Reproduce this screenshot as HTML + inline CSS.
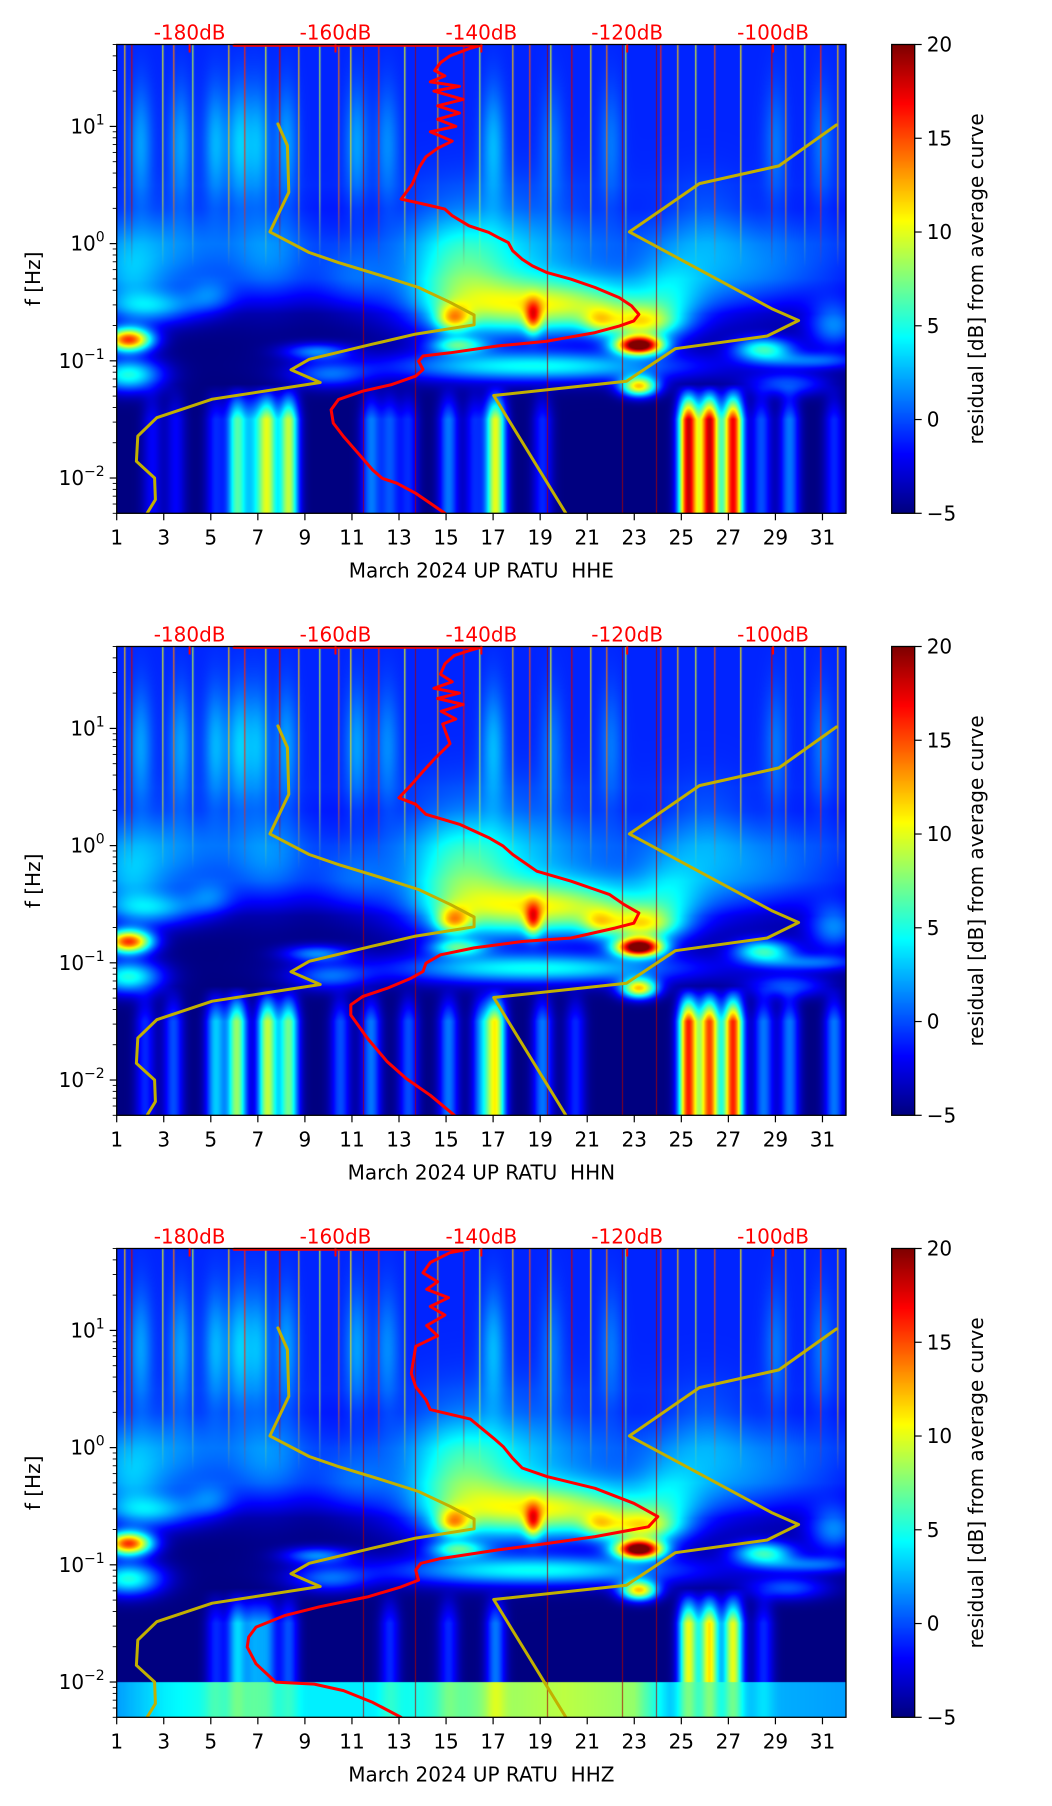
<!DOCTYPE html>
<html><head><meta charset="utf-8">
<style>
html,body{margin:0;padding:0;background:#fff;}
#root{position:relative;width:1052px;height:1806px;overflow:hidden;font-family:"DejaVu Sans","Liberation Sans",sans-serif;}
canvas{position:absolute;}
svg{position:absolute;left:0;top:0;}
</style></head>
<body>
<div id="root">
<canvas id="c0"></canvas>
<canvas id="c1"></canvas>
<canvas id="c2"></canvas>
<canvas id="cb0"></canvas>
<canvas id="cb1"></canvas>
<canvas id="cb2"></canvas>
<svg id="ov" width="1052" height="1806"></svg>
</div>
<script>
// ---------- data ----------
const dayTicks = [1,3,5,7,9,11,13,15,17,19,21,23,25,27,29,31];
const dbTicks = [-180,-160,-140,-120,-100];
const cbTicks = [-5,0,5,10,15,20];
const channelNames = ["HHE","HHN","HHZ"];

const red0dB = [-173.9,-140,-141.7,-144.3,-145.6,-146.4,-145,-147,-143,-146.5,-142.5,-146,-143,-146,-143.5,-147,-144,-146,-147.6,-148.5,-149,-149.5,-151,-149,-147,-145,-144,-141.7,-139,-137.7,-136.3,-135.7,-134.4,-133,-131,-127.7,-124.4,-121.1,-119.4,-118.4,-119.1,-121.1,-124.4,-131,-137.7,-144.3,-148,-148.6,-148,-149,-152.3,-156.3,-159.6,-160.6,-160.3,-158.9,-156.9,-154.9,-153.6,-151.6,-149,-147,-145];
const red0Hz = [49.3,49.3,46,40,35,30,27,24,22,20,17,15,13,11.5,10,9,7.5,6.5,5.5,4.5,3.8,3.2,2.4,2.25,2.11,1.97,1.73,1.42,1.25,1.13,1.02,0.869,0.736,0.646,0.566,0.497,0.422,0.346,0.294,0.249,0.219,0.198,0.174,0.147,0.134,0.117,0.110,0.0993,0.0843,0.074,0.0627,0.055,0.0467,0.0383,0.0294,0.0226,0.0163,0.0117,0.00995,0.00904,0.00741,0.00608,0.005];
const red1dB = [-173.9,-140,-141.7,-143.7,-145,-145.6,-144,-146.5,-143,-146,-142.5,-145.5,-143.5,-145.3,-144.3,-146.3,-148,-149.6,-151.3,-149,-147.6,-143,-139,-137,-135.7,-132.4,-127.7,-124.4,-122.4,-120.4,-118.4,-119.1,-121.7,-127.7,-134.4,-141,-145.6,-147.6,-148,-149.6,-152.9,-156.3,-157.9,-157.9,-155.6,-152.9,-150.3,-147,-143.7];
const red1Hz = [49.3,49.3,46,42,35.6,29,25,22,20,18,16,14,12,10.9,7.4,5.6,4.3,3.3,2.56,2.25,1.85,1.52,1.17,0.99,0.84,0.605,0.497,0.422,0.382,0.313,0.266,0.218,0.198,0.163,0.152,0.134,0.117,0.0993,0.0843,0.074,0.0607,0.0515,0.0438,0.0359,0.0226,0.0143,0.0103,0.00741,0.005];
const red2dB = [-173.9,-141.7,-144.3,-147,-148,-146,-147.5,-144.5,-147,-145,-147.5,-146,-149,-149.6,-149,-147.6,-147,-145,-141.5,-138.3,-137,-135.7,-134.4,-131,-124.4,-119.1,-115.8,-117.1,-124.4,-131,-137.7,-145.6,-148.3,-149,-148.6,-151,-155.6,-162.2,-166.9,-170.9,-171.9,-172.1,-170.9,-168.2,-162.9,-158.9,-154.9,-151];
const red2Hz = [49.3,49.3,46,38,31,26,22.4,19,16,13.5,11,9,7.3,4.3,3.3,2.56,2.11,1.97,1.75,1.2,1.02,0.81,0.67,0.566,0.45,0.335,0.258,0.211,0.174,0.152,0.134,0.113,0.103,0.090,0.074,0.0648,0.0532,0.0438,0.037,0.0294,0.0242,0.0199,0.0143,0.00998,0.0096,0.00845,0.0067,0.005];

const nlnmDB = [-167.9,-166.6,-166.4,-169.0,-163.6,-159.6,-153.6,-148.6,-144.3,-141.0,-141.0,-149.0,-154.9,-163.6,-166.1,-162.1,-176.9,-184.5,-187.1,-187.3,-184.8,-184.7,-185.8];
const nlnmHz = [10.5,6.87,2.74,1.26,0.84,0.689,0.530,0.422,0.316,0.246,0.203,0.169,0.139,0.103,0.0838,0.0653,0.047,0.0327,0.0228,0.0139,0.0100,0.00655,0.00504];
const nhnmDB = [-128.4,-138.3,-120.1,-113.4,-100.8,-96.5,-100.2,-119.7,-110.1,-99.2,-91.3];
const nhnmHz = [0.005,0.0506,0.067,0.127,0.163,0.221,0.279,1.26,3.25,4.60,10.3];

const baseLf  = [1.7, 0.5, 0.3, 0.0, -0.3, -0.5, -0.6, -1.3, -2.31];
const baseVal = [-1, -1, -1.5, -1.3, -2.3, -4, -5, -5, -5];
const blobDay = [1.5,1.5,2.5,3,5,7.5,11,9.5,10,15.5,17.5,19.5,15.3,18.7,21.5,23.3,23.2,23.2,19,15.5,28.5,27.5,31.5,30.5,29.5,24.5,26,1.5];
const blobLf  = [-0.82,-1.12,-0.55,-0.1,-0.45,-0.15,-0.3,-0.92,-1.12,-0.3,-0.2,-0.55,-0.64,-0.63,-0.66,-0.68,-0.87,-1.22,-1.05,-0.87,-0.9,-0.25,-0.7,-1.0,-1.2,-0.45,0.1,-0.3];
const blobSd  = [0.7,1.0,1.5,2.2,0.7,1.2,1.2,1,1.2,1.5,3,3.3,0.5,0.25,0.5,1.1,0.7,0.55,4.5,0.8,0.9,3,0.8,1.5,1.2,1,1.2,1];
const blobSl  = [0.07,0.1,0.1,0.3,0.1,0.3,0.2,0.05,0.08,0.35,0.4,0.16,0.08,0.1,0.08,0.1,0.055,0.06,0.09,0.05,0.07,0.3,0.15,0.05,0.07,0.25,0.3,0.25];
const blobAmp = [20,10,6,3,3,3,2.5,6,5,5,4.5,12,9,9,5,10,25,16,9,8,10,3.5,6,5,5,3,1.5,3];
const hazeDays = [2,3.7,5.2,6.2,7,8.2,11.2,12.5,17,19.5,22,29,31];
const hazeAmp  = [3,3,3.5,4,3.5,3,3,2.5,3.5,2,2,2,2];
const col0Days = [2.5,3.5,5.2,6.1,6.8,7.4,8.3,11.8,12.6,13.4,15.1,16.2,17.1,19.1,25.3,26.2,27.2,28.4,29.6,31.5];
const col0Amp  = [3,3,4,11,6,14,14,6,5,4,6,4,15,4,23,23,22,5,6,4];
const col1Days = [2.2,3.4,5.2,6.1,7.4,8.3,10.5,11.8,13.4,15.1,16.5,17.1,19.1,20.5,25.3,26.2,27.2,28.5,29.6,31.5];
const col1Amp  = [4,5,8,13,14,12,5,6,5,6,6,15,6,4,21,20,21,6,6,6];
const col2Days = [5.2,6.1,6.8,7.4,8.3,12.6,15.1,17.1,25.3,26.2,27.2,28.5];
const col2Amp  = [4,8,6,6,5,4,4,6,15,16,15,4];
const bandDays = [1,3,5,9,12,14,17,20,23,24.5,32];
const bandAmp  = [7,9,10,9,9,10,13,14,13,8,7];
const streakDays = [1.3,1.6,2.9,3.4,4.2,5.7,6.4,7.3,7.9,8.7,9.6,10.4,10.9,12.1,13.2,14.6,15.7,16.4,17.8,18.5,19.4,20.3,21.1,21.8,22.6,24.1,24.8,25.6,26.4,27.5,28.8,29.4,30.2,30.9,31.6];
const streakVal  = [12,18,10,14,9,12,16,10,18,12,9,14,11,16,10,13,17,9,12,15,10,18,11,14,9,16,12,10,15,11,18,13,9,16,12];
const darkLineDays = [11.46,13.68,19.28,22.47,23.91];

const L=116.7, W=729.3, H=468.8, TOPS=[44.5,646.5,1248.5];
const CBX=891.7, CBW=23;
const D0=1, D1=32, LF0=Math.log10(0.005), LF1=Math.log10(50), DB0=-190, DB1=-90;
const xDay = d => L + (d-D0)/(D1-D0)*W;
const xDB = v => L + (v-DB0)/(DB1-DB0)*W;
const yF = (f,t) => t + (LF1-Math.log10(f))/(LF1-LF0)*H;
const NS="http://www.w3.org/2000/svg";

function jet(v){
  let t=(v+5)/25; t=Math.max(0,Math.min(1,t));
  const c=x=>Math.max(0,Math.min(1,x));
  return [c(Math.min(4*t-1.5,-4*t+4.5))*255, c(Math.min(4*t-0.5,-4*t+3.5))*255, c(Math.min(4*t+0.5,-4*t+2.5))*255];
}
function interp(xs,ys,x){
  if(x>=xs[0]) return ys[0];
  for(let i=1;i<xs.length;i++){ if(x>=xs[i]){const u=(x-xs[i-1])/(xs[i]-xs[i-1]);return ys[i-1]+u*(ys[i]-ys[i-1]);} }
  return ys[ys.length-1];
}
function interpAsc(xs,ys,x){
  if(x<=xs[0]) return ys[0];
  for(let i=1;i<xs.length;i++){ if(x<=xs[i]){const u=(x-xs[i-1])/(xs[i]-xs[i-1]);return ys[i-1]+u*(ys[i]-ys[i-1]);} }
  return ys[ys.length-1];
}
const colDays=[col0Days,col1Days,col2Days], colAmp=[col0Amp,col1Amp,col2Amp];

function drawSpec(p){
  const cv=document.getElementById('c'+p);
  const w=Math.round(W), h=Math.round(H);
  cv.width=w; cv.height=h;
  cv.style.left=L+'px'; cv.style.top=TOPS[p]+'px';
  cv.style.width=W+'px'; cv.style.height=H+'px';
  const ctx=cv.getContext('2d');
  const img=ctx.createImageData(w,h);
  const days=new Float32Array(w), lfs=new Float32Array(h), base=new Float32Array(h);
  for(let i=0;i<w;i++) days[i]=D0+(i+0.5)/w*(D1-D0);
  for(let j=0;j<h;j++){ lfs[j]=LF1-(j+0.5)/h*(LF1-LF0); base[j]=interp(baseLf,baseVal,lfs[j]); }
  const field=new Float32Array(w*h);
  for(let j=0;j<h;j++) for(let i=0;i<w;i++) field[j*w+i]=base[j];
  const addSep=(fx,fy)=>{ for(let j=0;j<h;j++){const a=fy[j]; if(Math.abs(a)<1e-3) continue; const o=j*w; for(let i=0;i<w;i++) field[o+i]+=a*fx[i];} };
  for(let b=0;b<blobDay.length;b++){
    const fx=new Float32Array(w), fy=new Float32Array(h);
    for(let i=0;i<w;i++){const u=(days[i]-blobDay[b])/blobSd[b]; fx[i]=Math.exp(-u*u/2);}
    for(let j=0;j<h;j++){const u=(lfs[j]-blobLf[b])/blobSl[b]; fy[j]=blobAmp[b]*Math.exp(-u*u/2);}
    addSep(fx,fy);
  }
  { const fx=new Float32Array(w), fy=new Float32Array(h);
    for(let i=0;i<w;i++){let s=0; for(let k=0;k<hazeDays.length;k++){const u=(days[i]-hazeDays[k])/0.35; s+=hazeAmp[k]*Math.exp(-u*u/2);} fx[i]=s;}
    for(let j=0;j<h;j++){const u=(lfs[j]-0.85)/0.35; fy[j]=Math.exp(-u*u/2);}
    addSep(fx,fy); }
  { const cd=colDays[p], ca=colAmp[p];
    const fx=new Float32Array(w), fy=new Float32Array(h);
    for(let i=0;i<w;i++){let s=0; for(let k=0;k<cd.length;k++){const u=(days[i]-cd[k])/0.3; s+=ca[k]*Math.exp(-u*u/2);} fx[i]=s;}
    for(let j=0;j<h;j++){let m=(-1.2-lfs[j])/0.3; m=Math.max(0,Math.min(1,m)); if(p===2 && lfs[j]<-2) m=0.3; fy[j]=m;}
    addSep(fx,fy); }
  if(p===2){
    const fx=new Float32Array(w), fy=new Float32Array(h);
    for(let i=0;i<w;i++) fx[i]=interpAsc(bandDays,bandAmp,days[i]);
    for(let j=0;j<h;j++) fy[j]= lfs[j]<-2 ? 1 : 0;
    addSep(fx,fy);
  }
  for(let k=0;k<w*h;k++){const c=jet(field[k]); img.data[4*k]=c[0]; img.data[4*k+1]=c[1]; img.data[4*k+2]=c[2]; img.data[4*k+3]=255;}
  ctx.putImageData(img,0,0);
  const yLow=Math.round((LF1+0.2)/(LF1-LF0)*h);
  for(let k=0;k<streakDays.length;k++){
    const x=Math.round((streakDays[k]-D0)/(D1-D0)*w);
    const c=jet(streakVal[k]);
    const g=ctx.createLinearGradient(0,0,0,yLow);
    g.addColorStop(0,`rgba(${c[0]|0},${c[1]|0},${c[2]|0},0.8)`);
    g.addColorStop(0.7,`rgba(${c[0]|0},${c[1]|0},${c[2]|0},0.6)`);
    g.addColorStop(1,`rgba(${c[0]|0},${c[1]|0},${c[2]|0},0)`);
    ctx.fillStyle=g; ctx.fillRect(x,0,1.5,yLow);
  }
  ctx.fillStyle='rgba(170,0,0,0.8)';
  for(const d of darkLineDays){ctx.fillRect(Math.round((d-D0)/(D1-D0)*w),0,1,h);}
  const cb=document.getElementById('cb'+p);
  cb.width=CBW; cb.height=h;
  cb.style.left=CBX+'px'; cb.style.top=TOPS[p]+'px'; cb.style.width=CBW+'px'; cb.style.height=H+'px';
  const cctx=cb.getContext('2d');
  for(let j=0;j<h;j++){const c=jet(20-(j+0.5)/h*25); cctx.fillStyle=`rgb(${c[0]|0},${c[1]|0},${c[2]|0})`; cctx.fillRect(0,j,CBW,1);}
}

const svg=document.getElementById('ov');
function el(tag,attrs,parent){const e=document.createElementNS(NS,tag); for(const k in attrs) e.setAttribute(k,attrs[k]); (parent||svg).appendChild(e); return e;}

function drawAxes(p){
  const T=TOPS[p], B=T+H;
  const g=el('g',{});
  
  
  const clipId='clip'+p;
  const cp=el('clipPath',{id:clipId},g); el('rect',{x:L,y:T-3,width:W,height:H+3},cp);
  const lines=el('g',{'clip-path':`url(#${clipId})`},g);
  function poly(dbs,hzs,color,name){
    const pts=dbs.map((v,i)=>xDB(v).toFixed(1)+','+yF(hzs[i],T).toFixed(1)).join(' ');
    const pl=el('polyline',{points:pts,fill:'none',stroke:color,'stroke-width':3,'stroke-linejoin':'round','stroke-linecap':'round'},lines);
    
    
  }
  poly(nlnmDB,nlnmHz,'#c2b000','nlnm-curve');
  poly(nhnmDB,nhnmHz,'#c2b000','nhnm-curve');
  const rd=[red0dB,red1dB,red2dB][p], rh=[red0Hz,red1Hz,red2Hz][p];
  poly(rd,rh,'#ff0000','psd-curve');
  el('rect',{x:L,y:T,width:W,height:H,fill:'none',stroke:'#000','stroke-width':1.3},g);
  dayTicks.forEach(d=>{
    const x=xDay(d);
    el('line',{x1:x,y1:B,x2:x,y2:B+7,stroke:'#000','stroke-width':1.2},g);
    const t=el('text',{x:x,y:B+31,'font-size':20,'text-anchor':'middle',fill:'#000'},g);
    t.textContent=d;
    
    
  });
  const xl=el('text',{x:L+W/2,y:B+64,'font-size':20,'text-anchor':'middle',fill:'#000'},g);
  xl.style.whiteSpace='pre';
  xl.textContent='March 2024 UP RATU  '+channelNames[p];
  
  
  for(let e=-3;e<=1;e++){
    for(let m=1;m<=9;m++){
      const f=m*Math.pow(10,e); if(f<0.005||f>50) continue;
      const y=yF(f,T);
      el('line',{x1:L,y1:y,x2:L-(m===1?7:4),y2:y,stroke:'#000','stroke-width':m===1?1.2:0.9},g);
      if(m===1){
        const t=el('text',{x:L-12,y:y+7,'font-size':20,'text-anchor':'end',fill:'#000'},g);
        
        
        const a=document.createElementNS(NS,'tspan'); a.textContent='10'; t.appendChild(a);
        const s=document.createElementNS(NS,'tspan'); s.setAttribute('dy','-9'); s.setAttribute('font-size','14'); s.textContent=(e<0?'\u2212':'')+Math.abs(e); t.appendChild(s);
      }
    }
  }
  const yl=el('text',{x:0,y:0,'font-size':20,'text-anchor':'middle',fill:'#000',transform:`translate(40,${T+H/2}) rotate(-90)`},g);
  yl.textContent='f [Hz]';
  
  
  dbTicks.forEach(v=>{
    const x=xDB(v);
    el('line',{x1:x,y1:T,x2:x,y2:T+8,stroke:'#ff0000','stroke-width':2},g);
    const t=el('text',{x:x,y:T-5,'font-size':20,'text-anchor':'middle',fill:'#ff0000'},g);
    t.textContent=v+'dB';
    
    
  });
  el('rect',{x:CBX,y:T,width:CBW,height:H,fill:'none',stroke:'#000','stroke-width':1.3},g);
  cbTicks.forEach(v=>{
    const y=T+(20-v)/25*H;
    el('line',{x1:CBX+CBW,y1:y,x2:CBX+CBW+7,y2:y,stroke:'#000','stroke-width':1.2},g);
    const t=el('text',{x:CBX+CBW+12,y:y+7,'font-size':20,fill:'#000'},g);
    t.textContent=v<0?'\u2212'+Math.abs(v):String(v);
    
    
  });
  const cl=el('text',{x:0,y:0,'font-size':20,'text-anchor':'middle',fill:'#000',transform:`translate(983,${T+H/2}) rotate(-90)`},g);
  cl.textContent='residual [dB] from average curve';
  
  
}

for(let p=0;p<3;p++){ drawSpec(p); drawAxes(p); }
</script>
</body></html>
